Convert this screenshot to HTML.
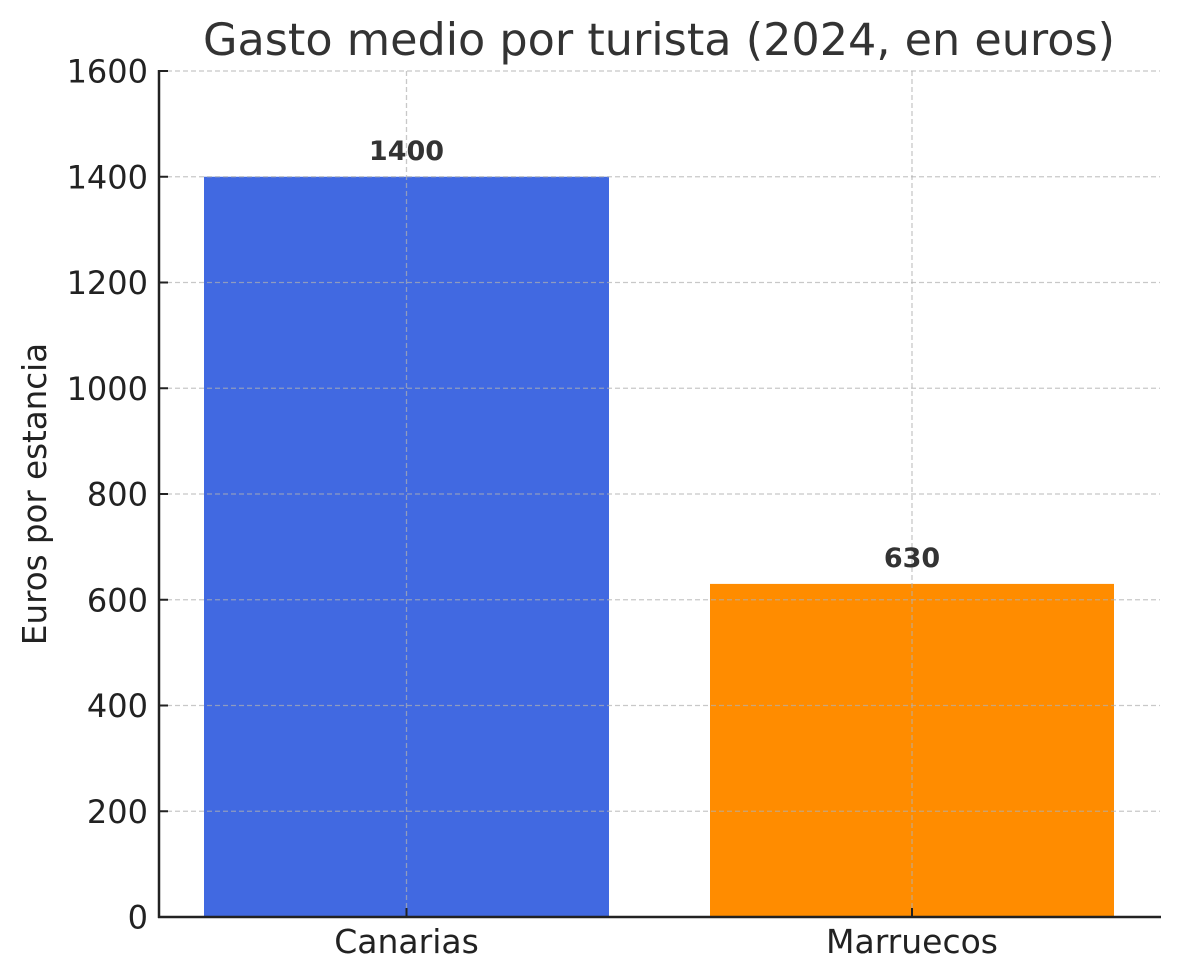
<!DOCTYPE html>
<html><head><meta charset="utf-8"><style>
html,body{margin:0;padding:0;background:#fff;}
svg{display:block;font-family:"DejaVu Sans","Liberation Sans",sans-serif;}
</style></head><body>
<svg width="1180" height="980" viewBox="0 0 1180 980" xmlns="http://www.w3.org/2000/svg">
<rect width="1180" height="980" fill="#fff"/>
<text x="659" y="55" font-size="44.5" fill="#333" text-anchor="middle">Gasto medio por turista (2024, en euros)</text>
<rect x="204" y="176.75" width="405" height="740.25" fill="#4169E1"/>
<rect x="710" y="583.9" width="404" height="333.1" fill="#FF8C00"/>
<g stroke="#b0b0b0" stroke-opacity="0.7" stroke-width="1.3" stroke-dasharray="5,3">
<line x1="159" x2="1160" y1="71" y2="71"/>
<line x1="159" x2="1160" y1="176.75" y2="176.75"/>
<line x1="159" x2="1160" y1="282.5" y2="282.5"/>
<line x1="159" x2="1160" y1="388.25" y2="388.25"/>
<line x1="159" x2="1160" y1="494" y2="494"/>
<line x1="159" x2="1160" y1="599.75" y2="599.75"/>
<line x1="159" x2="1160" y1="705.5" y2="705.5"/>
<line x1="159" x2="1160" y1="811.25" y2="811.25"/>
<line x1="406.5" x2="406.5" y1="71" y2="917"/>
<line x1="912" x2="912" y1="71" y2="917"/>
</g>
<g stroke="#222" stroke-width="2.5">
<line x1="159" x2="159" y1="70" y2="918"/>
<line x1="158" x2="1161" y1="917" y2="917"/>
</g>
<g stroke="#222" stroke-width="2">
<line x1="159" x2="168" y1="71" y2="71"/>
<line x1="159" x2="168" y1="176.75" y2="176.75"/>
<line x1="159" x2="168" y1="282.5" y2="282.5"/>
<line x1="159" x2="168" y1="388.25" y2="388.25"/>
<line x1="159" x2="168" y1="494" y2="494"/>
<line x1="159" x2="168" y1="599.75" y2="599.75"/>
<line x1="159" x2="168" y1="705.5" y2="705.5"/>
<line x1="159" x2="168" y1="811.25" y2="811.25"/>
<line x1="406.5" x2="406.5" y1="908" y2="917"/>
<line x1="912" x2="912" y1="908" y2="917"/>
</g>
<g font-size="32" fill="#222" text-anchor="end">
<text x="148" y="82.5">1600</text>
<text x="148" y="188.3">1400</text>
<text x="148" y="294">1200</text>
<text x="148" y="399.8">1000</text>
<text x="148" y="505.5">800</text>
<text x="148" y="611.3">600</text>
<text x="148" y="717">400</text>
<text x="148" y="822.8">200</text>
<text x="148" y="928.5">0</text>
</g>
<g font-size="33" fill="#222" text-anchor="middle">
<text x="406.5" y="953">Canarias</text>
<text x="912" y="953">Marruecos</text>
</g>
<text transform="translate(46,494) rotate(-90)" font-size="32.5" fill="#222" text-anchor="middle">Euros por estancia</text>
<g font-size="27" font-weight="bold" fill="#333" text-anchor="middle">
<text x="406.5" y="160">1400</text>
<text x="912" y="567">630</text>
</g>
</svg>
</body></html>
